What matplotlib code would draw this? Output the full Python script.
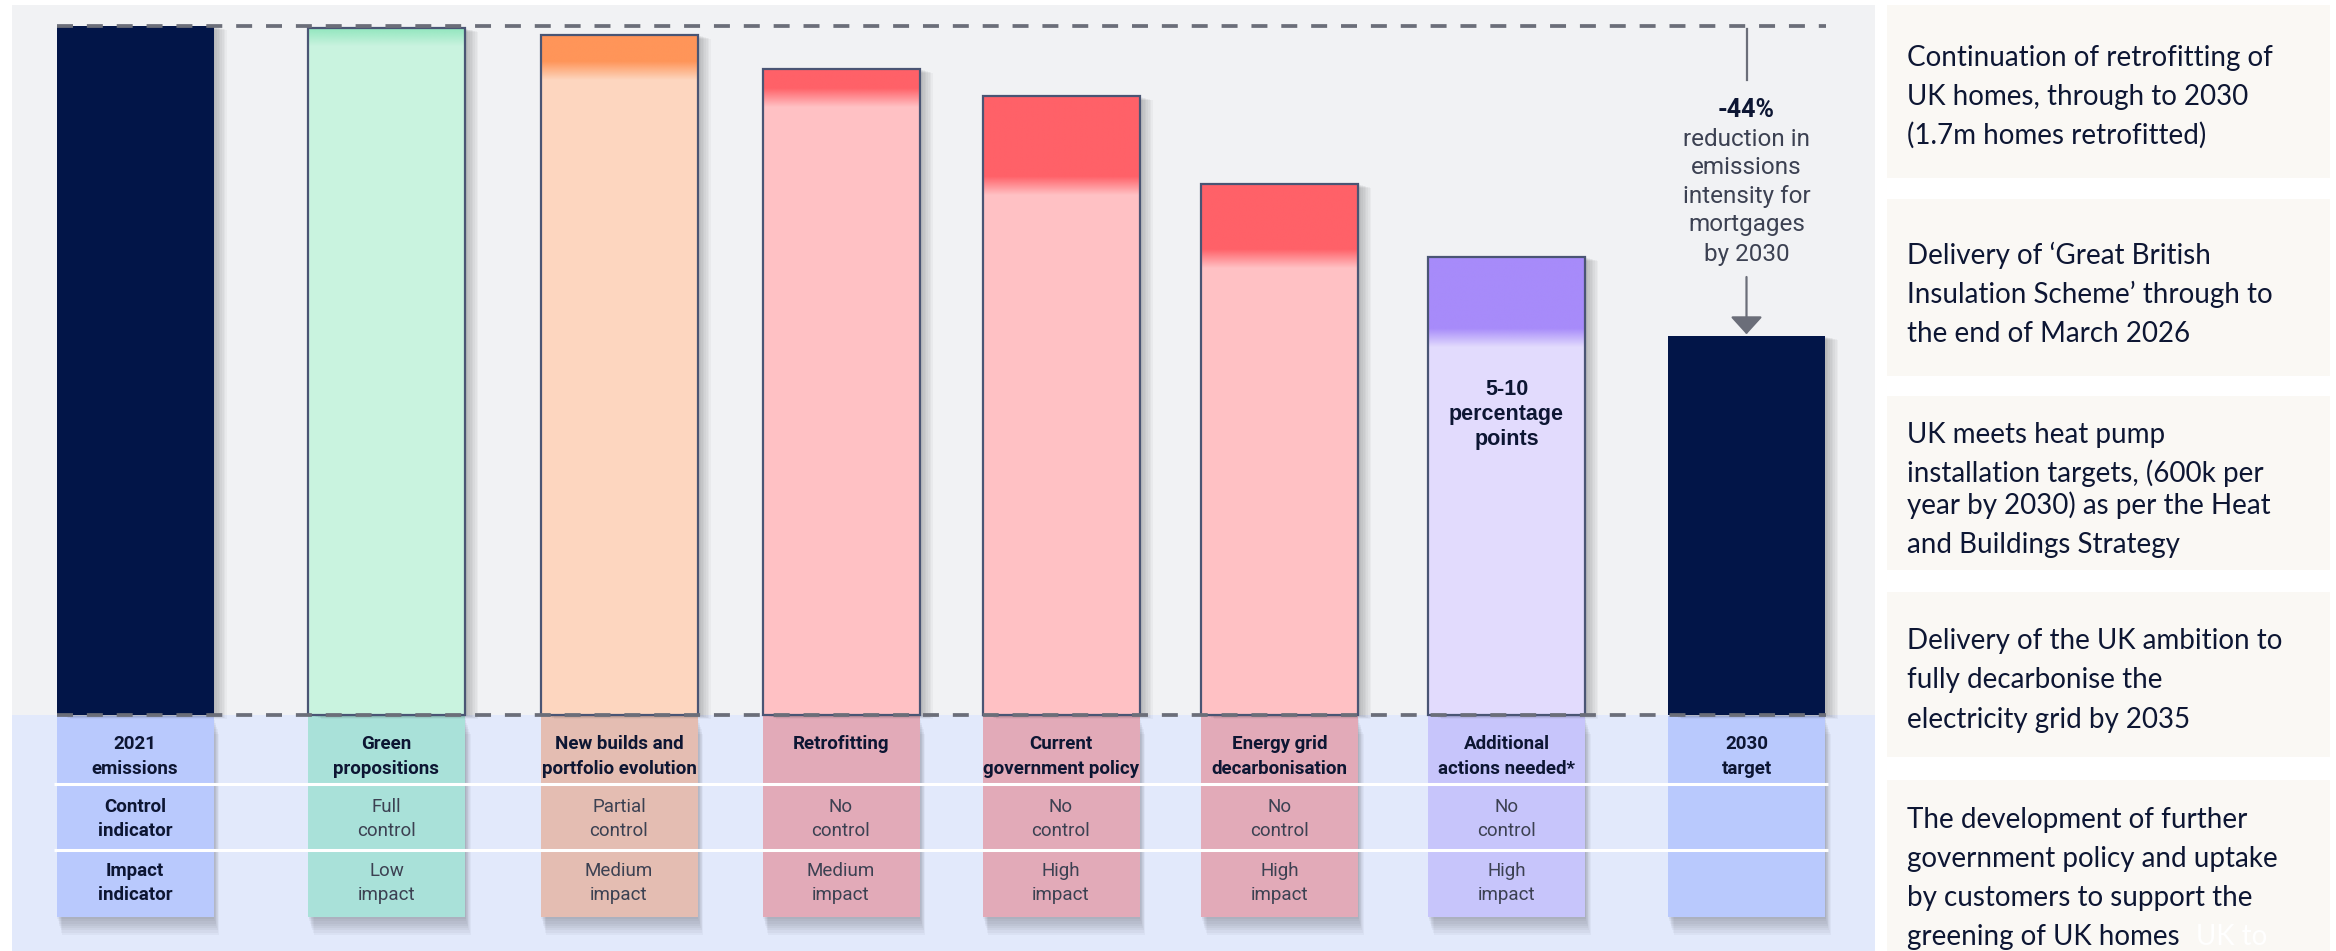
import numpy as np
import matplotlib
matplotlib.use("Agg")
import matplotlib.pyplot as plt
from matplotlib.patches import Rectangle
from matplotlib import patheffects as pe
from matplotlib import font_manager as fm

# ---------------- data ----------------
categories = ["2021\nemissions", "Green\npropositions", "New builds and\nportfolio evolution",
              "Retrofitting", "Current\ngovernment policy", "Energy grid\ndecarbonisation",
              "Additional\nactions needed*", "2030\ntarget"]
emissions_index = [100.0, 99.7, 98.7, 93.8, 89.8, 77.1, 66.5, 55.0]
control_labels = ["Control\nindicator", "Full\ncontrol", "Partial\ncontrol", "No\ncontrol",
                  "No\ncontrol", "No\ncontrol", "No\ncontrol", ""]
impact_labels = ["Impact\nindicator", "Low\nimpact", "Medium\nimpact", "Medium\nimpact",
                 "High\nimpact", "High\nimpact", "High\nimpact", ""]
reduction_value = "-44%"
reduction_text = ["reduction in", "emissions", "intensity for", "mortgages", "by 2030"]
additional_text = ["5-10", "percentage", "points"]
driver_notes = [
    ["Continuation of retrofitting of", "UK homes, through to 2030", "(1.7m homes retrofitted)"],
    ["Delivery of \u2018Great British", "Insulation Scheme\u2019 through to", "the end of March 2026"],
    ["UK meets heat pump", "installation targets, (600k per", "year by 2030) as per the Heat",
     "and Buildings Strategy"],
    ["Delivery of the UK ambition to", "fully decarbonise the", "electricity grid by 2035"],
    ["The development of further", "government policy and uptake", "by customers to support the",
     "greening of UK homes"],
]
hidden_tail = "UK to"

# ---------------- fonts ----------------
def has_font(name):
    try:
        fm.findfont(fm.FontProperties(family=name), fallback_to_default=False)
        return True
    except Exception:
        return False

NARROW = "Liberation Sans Narrow" if has_font("Liberation Sans Narrow") else "Roboto"
SANS = "Liberation Sans"
NOTE = "Lato" if has_font("Lato") else "DejaVu Sans"
matplotlib.rcParams["lines.scale_dashes"] = False

# ---------------- layout / style ----------------
W, H = 2336, 951
Y0, Y100 = 715.0, 26.0
def val(p):
    return (Y0 - p) * 100.0 / (Y0 - Y100)

bar_centers = [135, 386.5, 619, 841, 1061, 1279.5, 1506.5, 1746.5]
bar_w = 157
bar_fill = ["#021548", "#c9f3df", "#fdd6bf", "#ffc1c4", "#ffc1c4", "#ffc1c4", "#e2dbfd", "#021548"]
band_color = [None, "#8fe6bd", "#ff9559", "#ff6168", "#ff6168", "#ff6168", "#a78bfa", None]
edge_color = ["none", "#4a5574", "#4a5574", "#4a5574", "#4a5574", "#4a5574", "#4a5574", "none"]
label_fill = ["#b9c9fd", "#a9e1d9", "#e4bdb2", "#e2aab8", "#e2aab8", "#e2aab8", "#c7c5fb", "#b9c9fd"]
dash_col = "#6b6e79"
txt_dark = "#0d1633"
txt_grey = "#3c4152"

fig = plt.figure(figsize=(W / 100, H / 100), dpi=100)
fig.patch.set_facecolor("white")
bg = fig.add_axes([0, 0, 1, 1], zorder=0)
bg.set_xlim(0, W); bg.set_ylim(H, 0); bg.axis("off")
ax = fig.add_axes([0, 0, 1, 1], zorder=1)
ax.set_xlim(0, W); ax.set_ylim(val(H), val(0)); ax.axis("off")

def shadow(n=7, dx=1.3, dy=-0.5, alpha=0.03):
    effs = [pe.SimplePatchShadow(offset=(dx * k, dy * k), shadow_rgbFace="black", alpha=alpha)
            for k in range(n, 0, -1)]
    return effs + [pe.Normal()]

# panels
bg.add_patch(Rectangle((12, 5), 1863, 710, fc="#f1f2f4", ec="none", zorder=0))
bg.add_patch(Rectangle((12, 715), 1863, 236, fc="#e2e9fb", ec="none", zorder=0))

# label boxes
for cx, fc in zip(bar_centers, label_fill):
    r = Rectangle((cx - bar_w / 2, 716), bar_w, 201, fc=fc, ec="none", zorder=1)
    r.set_path_effects(shadow(n=8, dx=0.5, dy=-1.6, alpha=0.03))
    bg.add_patch(r)
bg.hlines([784, 850], 54, 1828, color="white", lw=2.2, zorder=2)

def lines_at(axes, x, centers, lines, size, weight, color, family, ha="center", target=None):
    target = target or axes
    for y, t in zip(centers, lines):
        target.text(x, y + 0.36 * size * 100 / 72, t, ha=ha, va="baseline", fontsize=size,
                    fontweight=weight, color=color, family=family, zorder=8,
                    transform=axes.transData)

fs_tab = 13.5
for i, cx in enumerate(bar_centers):
    lines_at(bg, cx, [742, 767], categories[i].split("\n"), fs_tab, "bold", txt_dark, NARROW)
    if control_labels[i]:
        w = "bold" if i == 0 else "normal"
        c = txt_dark if i == 0 else txt_grey
        lines_at(bg, cx, [805, 829], control_labels[i].split("\n"), fs_tab, w, c, NARROW)
        lines_at(bg, cx, [869, 893], impact_labels[i].split("\n"), fs_tab, w, c, NARROW)

# bars
bars = ax.bar(bar_centers, emissions_index, width=bar_w, color=bar_fill, edgecolor="none", zorder=2)
for b in bars:
    b.set_path_effects(shadow(n=8, dx=1.2, dy=-0.35, alpha=0.03))

N = 200
for i in range(len(emissions_index) - 1):
    if band_color[i] is None:
        continue
    top = emissions_index[i]
    nxt = emissions_index[i + 1]
    solid_end = nxt + 1.1
    lo = nxt - 1.6
    vals = top - (np.arange(N) + 0.5) / N * (top - lo)
    alpha = np.clip((vals - lo) / (solid_end - lo), 0, 1)
    rgb = matplotlib.colors.to_rgb(band_color[i])
    img = np.zeros((N, 1, 4))
    img[:, 0, :3] = rgb
    img[:, 0, 3] = alpha
    ax.imshow(img, extent=[bar_centers[i] - bar_w / 2, bar_centers[i] + bar_w / 2, lo, top],
              aspect="auto", origin="upper", interpolation="bilinear", zorder=3)

ax.bar(bar_centers, emissions_index, width=bar_w, fill=False, edgecolor=edge_color, lw=1.6, zorder=4)
ax.set_xlim(0, W); ax.set_ylim(val(H), val(0))

# dashed reference lines
ax.hlines([emissions_index[0], 0], 57, 1826, color=dash_col, lw=2.7,
          linestyles=[(0, (11.5, 10))], zorder=6)

# annotation
cx8 = bar_centers[-1]
ax.plot([cx8, cx8], [val(29), val(80)], color=dash_col, lw=1.6, zorder=5)
ax.annotate("", xy=(cx8, emissions_index[-1] + 0.25), xytext=(cx8, val(277)),
            arrowprops=dict(arrowstyle="-|>,head_length=0.55,head_width=0.5", color=dash_col,
                            lw=1.6, mutation_scale=20, shrinkA=0, shrinkB=0), zorder=5)
lines_at(bg, cx8, [108], [reduction_value], 18, "bold", txt_dark, NARROW)
lines_at(bg, cx8, [137, 165, 194, 222, 252], reduction_text, 17.5, "normal", txt_grey, NARROW)

lines_at(bg, bar_centers[6], [387, 412, 437], additional_text, 15.5, "bold", txt_dark, SANS,
         target=ax)

# right side notes
boxes = [(5, 178), (199, 376), (396, 570), (592, 757), (780, 951)]
baselines = [[66, 105, 144], [264, 303, 342], [443, 482, 514, 553], [649, 688, 728],
             [828, 867, 906, 945]]
fs_note = 20
for (y_a, y_b), note, bl in zip(boxes, driver_notes, baselines):
    bg.add_patch(Rectangle((1887, y_a), 443, y_b - y_a, fc="#faf8f4", ec="none", zorder=1))
    for y, t in zip(bl, note):
        bg.text(1907, y, t, ha="left", va="baseline", fontsize=fs_note, color=txt_dark,
                family=NOTE, zorder=5)
bg.text(2196, baselines[-1][-1], hidden_tail, ha="left", va="baseline", fontsize=fs_note,
        color="white", family=NOTE, zorder=5)

fig.savefig("out.png", dpi=100, facecolor="white")
